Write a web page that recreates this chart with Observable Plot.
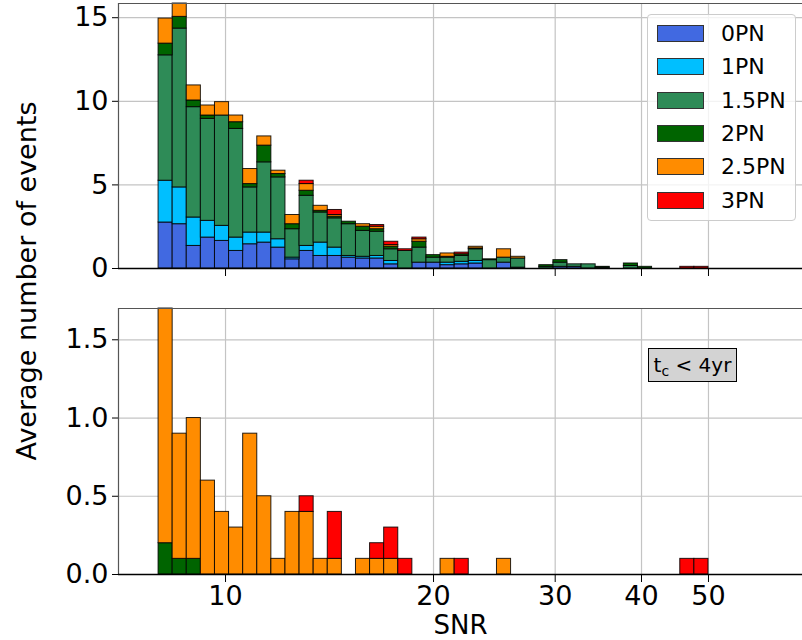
<!DOCTYPE html>
<html>
<head>
<meta charset="utf-8">
<script src="https://cdn.jsdelivr.net/npm/d3@7"></script>
<script src="https://cdn.jsdelivr.net/npm/@observablehq/plot@0.6"></script>
<style>
  html, body { margin: 0; padding: 0; background: #fff; }
  #wrap { position: relative; width: 802px; height: 640px; overflow: hidden; font-family: "DejaVu Sans", sans-serif; }
  #wrap svg { display: block; }
  .ylabel { position: absolute; left: 26px; top: 281px; transform: translate(-50%, -50%) rotate(-90deg); font-size: 27px; white-space: nowrap; color: #000; }
  .legend { position: absolute; left: 647px; top: 14px; width: 147px; height: 205px; border: 1px solid #cccccc; border-radius: 4px; background: rgba(255,255,255,0.8); }
  .legend .row { position: absolute; left: 0; height: 20px; display: flex; align-items: center; }
  .legend .sw { position: absolute; left: 9px; width: 45px; height: 15px; border: 1px solid #333; }
  .legend .lab { position: absolute; left: 73px; font-size: 22px; line-height: 22px; white-space: nowrap; }
  .tcbox { position: absolute; left: 648px; top: 348px; width: 87px; height: 32px; box-sizing: content-box; background: #d3d3d3; border: 1px solid #000; font-size: 20px; line-height: 32px; text-align: center; white-space: nowrap; }
  .tcbox sub { font-size: 14px; vertical-align: -4px; line-height: 0; }
</style>
</head>
<body>
<div id="wrap">
  <div id="topPanel"></div>
  <div id="bottomPanel"></div>
  <div class="ylabel">Average number of events</div>
  <div class="legend" id="legend"></div>
  <div class="tcbox">t<sub>c</sub> &lt; 4yr</div>
</div>
<script>
// Histogram binning: 39 log-spaced SNR bins between 8 and 50
const binLo = 8, binHi = 50, nBins = 39;
const edges = d3.range(nBins + 1).map(i => binLo * Math.pow(binHi / binLo, i / nBins));

// PN-order categories and their colours
const categories = ["0PN", "1PN", "1.5PN", "2PN", "2.5PN", "3PN"];
const colors = ["#4169E1", "#00BFFF", "#2E8B57", "#006400", "#FF8C00", "#FF0000"];

// Axis ticks
const xTicks = [10, 20, 30, 40, 50];
const yTicksAll = [0, 5, 10, 15];
const yTicksShort = [0, 0.5, 1.0, 1.5];
const xDomain = [7, 68.4];

// All events: average counts per SNR bin, one array per PN order
const all0PN  = [2.75, 2.65, 1.35, 1.85, 1.65, 1.05, 1.45, 1.55, 1.25, 0.55, 1.05, 0.75, 0.75, 0.65, 0.6, 0.6, 0.25, 0, 0.35, 0.35, 0.2, 0.25, 0.3, 0, 0.35, 0.05, 0, 0, 0.1, 0.1, 0, 0, 0, 0, 0, 0, 0, 0, 0];
const all1PN  = [2.5, 2.2, 1.7, 1.0, 0.9, 0.8, 0.7, 0.6, 0.5, 0.1, 0.3, 0.8, 0.5, 0.1, 0.1, 0.15, 0.2, 0, 0, 0, 0.15, 0.15, 0.15, 0, 0, 0, 0, 0, 0, 0, 0, 0, 0, 0, 0, 0, 0, 0, 0];
const all15PN = [7.5, 9.5, 6.6, 6.1, 6.6, 6.5, 2.7, 4.2, 3.7, 1.7, 3.0, 1.8, 1.75, 1.9, 1.55, 1.45, 0.7, 1.05, 0.9, 0.3, 0.3, 0.35, 0.7, 0.5, 0.3, 0.55, 0, 0.1, 0.25, 0.15, 0.25, 0.05, 0, 0.15, 0, 0, 0, 0, 0];
const all2PN  = [0.7, 0.7, 0.4, 0.2, 0, 0.4, 0.2, 1.0, 0.2, 0.3, 0.3, 0.1, 0.1, 0.15, 0.25, 0.15, 0.15, 0, 0.35, 0.15, 0.05, 0.1, 0.05, 0.05, 0, 0, 0, 0.1, 0.15, 0, 0, 0.05, 0, 0.15, 0.1, 0, 0, 0, 0];
const all25PN = [1.5, 0.8, 0.9, 0.6, 0.8, 0.4, 0.9, 0.55, 0.2, 0.55, 0.4, 0.3, 0.1, 0, 0.15, 0.15, 0.1, 0, 0.15, 0, 0.2, 0, 0.1, 0, 0.5, 0.1, 0, 0, 0, 0, 0, 0, 0, 0, 0, 0, 0, 0, 0];
const all3PN  = [0, 0, 0, 0, 0, 0, 0, 0, 0, 0, 0.2, 0, 0.3, 0, 0, 0.1, 0.2, 0.1, 0.1, 0, 0, 0.1, 0, 0, 0, 0, 0, 0, 0, 0, 0, 0, 0, 0, 0, 0, 0, 0.1, 0.1];

// Events with coalescence time below 4 years
const short2PN  = [0.2, 0.1, 0.1, 0, 0, 0, 0, 0, 0, 0, 0, 0, 0, 0, 0, 0, 0, 0, 0, 0, 0, 0, 0, 0, 0, 0, 0, 0, 0, 0, 0, 0, 0, 0, 0, 0, 0, 0, 0];
const short25PN = [1.5, 0.8, 0.9, 0.6, 0.4, 0.3, 0.9, 0.5, 0.1, 0.4, 0.4, 0.1, 0.1, 0, 0.1, 0.1, 0.1, 0, 0, 0, 0.1, 0, 0, 0, 0.1, 0, 0, 0, 0, 0, 0, 0, 0, 0, 0, 0, 0, 0, 0];
const short3PN  = [0, 0, 0, 0, 0, 0, 0, 0, 0, 0, 0.1, 0, 0.3, 0, 0, 0.1, 0.2, 0.1, 0, 0, 0, 0.1, 0, 0, 0, 0, 0, 0, 0, 0, 0, 0, 0, 0, 0, 0, 0, 0.1, 0.1];

// Long-format rows in stacking order (bottom to top)
function toRows(series) {
  const out = [];
  series.forEach(([cat, values]) => {
    values.forEach((v, i) => {
      if (v > 0) out.push({x1: edges[i], x2: edges[i + 1], y: v, cat});
    });
  });
  return out;
}
function binTotals(series) {
  return d3.range(nBins).map(i => d3.sum(series, ([, v]) => v[i]));
}

const allSeries = [["0PN", all0PN], ["1PN", all1PN], ["1.5PN", all15PN], ["2PN", all2PN], ["2.5PN", all25PN], ["3PN", all3PN]];
const shortSeries = [["2PN", short2PN], ["2.5PN", short25PN], ["3PN", short3PN]];

const allRows = toRows(allSeries);
const shortRows = toRows(shortSeries);
const allMax = d3.max(binTotals(allSeries));
const shortMax = d3.max(binTotals(shortSeries));

const gridColor = "#c4c4c4";
const spineColor = "#555";

function panel({rows, yMax, yTicks, yFormat, height, marginTop, marginBottom, labels}) {
  const marks = [
    Plot.gridX(xTicks, {stroke: gridColor, strokeOpacity: 1, strokeWidth: 1.2}),
    Plot.gridY(yTicks, {stroke: gridColor, strokeOpacity: 1, strokeWidth: 1.2}),
    Plot.rectY(rows, {x1: "x1", x2: "x2", y: "y", fill: "cat", stroke: "#000", strokeWidth: 1, strokeOpacity: 0.85}),
    Plot.ruleY([yMax], {stroke: spineColor, strokeWidth: 1.2}),
    Plot.ruleX([xDomain[0]], {stroke: spineColor, strokeWidth: 1.2}),
    Plot.ruleY([0], {stroke: "#000", strokeWidth: 1.4}),
    Plot.axisY(yTicks, {tickSize: 6, tickPadding: 4, fontSize: 27, tickFormat: yFormat, label: null, stroke: "#000"}),
    Plot.axisX(xTicks, {tickSize: 8, tickPadding: 3, fontSize: 27, label: null, stroke: "#000",
      tickFormat: labels ? (d => String(d)) : (() => "")})
  ];
  if (labels) {
    marks.push(Plot.text(["SNR"], {text: d => d, frameAnchor: "bottom", lineAnchor: "middle", dy: 51, fontSize: 26}));
  }
  return Plot.plot({
    width: 802,
    height,
    marginLeft: 118,
    marginRight: 0,
    marginTop,
    marginBottom,
    style: {fontFamily: "DejaVu Sans, sans-serif", fontSize: "27px", background: "transparent", color: "#000", overflow: "visible"},
    x: {type: "log", domain: xDomain, label: null},
    y: {domain: [0, yMax], label: null},
    color: {domain: categories, range: colors},
    marks
  });
}

document.getElementById("topPanel").append(panel({
  rows: allRows, yMax: allMax, yTicks: yTicksAll, yFormat: d => String(d),
  height: 290, marginTop: 3, marginBottom: 22, labels: false
}));
document.getElementById("bottomPanel").append(panel({
  rows: shortRows, yMax: shortMax, yTicks: yTicksShort, yFormat: d3.format(".1f"),
  height: 350, marginTop: 18, marginBottom: 66, labels: true
}));

// Legend
const legend = document.getElementById("legend");
categories.forEach((c, i) => {
  const row = document.createElement("div");
  row.className = "row";
  row.style.top = (9 + i * 33.3) + "px";
  const sw = document.createElement("div");
  sw.className = "sw";
  sw.style.background = colors[i];
  sw.style.top = "1px";
  const lab = document.createElement("div");
  lab.className = "lab";
  lab.textContent = c;
  row.append(sw, lab);
  legend.append(row);
});
</script>
</body>
</html>
